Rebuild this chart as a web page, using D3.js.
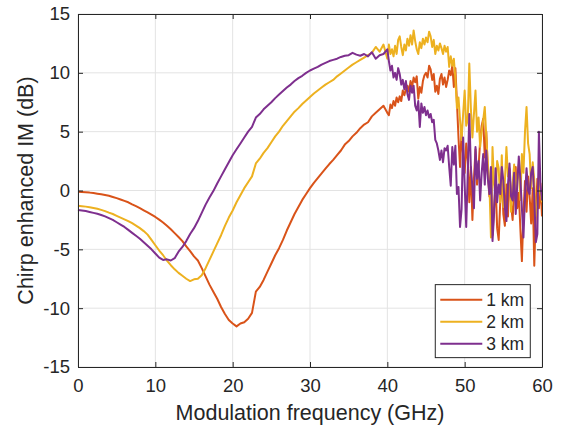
<!DOCTYPE html>
<html>
<head>
<meta charset="utf-8">
<script src="https://cdn.jsdelivr.net/npm/d3@7"></script>
<style>
  body { margin: 0; background: #fff; }
  text { font-family: "Liberation Sans", Arial, sans-serif; fill: #262626; }
</style>
</head>
<body>
<div id="chart"></div>
<script>
// frequency grids (GHz): coarse up to 40, fine in the noisy part
var freqLow = d3.range(0, 40, 0.5);
var freqHigh = d3.range(0, 101).map(function(i) { return +(40 + i * 0.2).toFixed(1); });

var km1Low = [-0.10,-0.12,-0.15,-0.18,-0.22,-0.27,-0.32,-0.38,-0.45,-0.55,
  -0.65,-0.76,-0.88,-1.00,-1.18,-1.33,-1.50,-1.68,-1.86,-2.05,
  -2.25,-2.48,-2.72,-3.00,-3.30,-3.62,-3.95,-4.30,-4.75,-5.15,
  -5.60,-5.95,-6.60,-7.30,-8.00,-8.60,-9.20,-9.90,-10.50,-11.00,
  -11.30,-11.55,-11.30,-11.20,-10.90,-10.40,-8.60,-8.20,-7.60,-6.90,
  -6.20,-5.50,-4.90,-4.20,-3.40,-2.70,-2.00,-1.40,-0.80,-0.30,
  0.20,0.65,1.05,1.45,1.85,2.25,2.60,3.00,3.40,3.90,
  4.20,4.60,4.90,5.30,5.60,5.80,6.30,6.60,6.90,7.20];
var km1High = [6.6,6.4,7.3,7.0,7.6,7.2,7.9,7.5,8.0,7.6,
  8.5,8.1,8.6,8.9,8.4,9.3,8.8,9.6,9.2,9.7,
  7.8,8.8,8.3,9.3,9.8,10.0,9.6,10.6,10.3,9.4,
  9.9,8.4,8.9,8.2,9.5,9.9,9.0,9.6,8.8,9.4,
  10.2,9.8,10.6,8.8,10.4,7.5,4.5,2.0,5.0,3.0,
  1.5,4.0,2.5,-1.0,2.0,-2.5,1.0,3.5,0.5,2.0,
  4.2,5.5,6.1,2.8,5.0,1.5,-0.5,1.0,-3.8,-1.5,
  0.5,-3.2,-4.2,-1.0,1.5,-2.0,-3.0,0.5,-2.2,1.8,
  -1.2,-2.5,0.2,2.0,-1.5,-0.2,-3.2,-6.0,-2.0,0.8,
  -1.8,1.2,-0.5,-2.8,0.2,-6.4,-2.0,1.0,-1.5,0.6,
  -2.2];

var km2Low = [-1.30,-1.33,-1.37,-1.42,-1.48,-1.55,-1.65,-1.75,-1.88,-2.00,
  -2.15,-2.30,-2.45,-2.60,-2.78,-2.98,-3.20,-3.45,-3.75,-4.20,
  -4.65,-5.10,-5.50,-5.95,-6.35,-6.70,-7.00,-7.25,-7.50,-7.70,
  -7.55,-7.50,-7.20,-6.60,-5.90,-5.20,-4.50,-3.80,-3.00,-2.30,
  -1.70,-1.00,-0.40,0.20,0.70,1.20,2.30,2.70,3.20,3.60,
  4.10,4.60,5.00,5.50,5.90,6.30,6.70,7.00,7.35,7.65,
  7.95,8.25,8.50,8.75,9.00,9.20,9.40,9.70,9.95,10.20,
  10.45,10.70,10.90,11.10,11.30,11.50,11.70,12.20,11.80,12.40];
var km2High = [11.2,12.4,11.6,12.0,11.4,12.3,11.6,12.8,13.1,12.2,
  11.5,12.4,11.9,12.9,12.3,13.2,12.4,13.6,12.7,12.0,
  11.6,12.6,12.1,12.9,12.4,13.0,12.6,13.5,13.1,12.2,
  12.8,11.6,12.3,11.9,12.5,12.1,11.6,12.3,11.8,12.2,
  10.5,11.4,10.6,11.2,9.5,7.0,7.9,6.0,4.3,6.5,
  8.5,5.5,6.0,10.8,7.0,4.5,6.5,8.5,5.0,6.2,
  3.7,5.0,6.0,7.1,4.5,2.3,0.5,-4.0,3.7,0.5,
  -0.3,2.5,1.9,-1.0,3.0,-1.4,0.8,3.7,1.2,1.9,
  -1.8,0.5,2.2,-0.3,1.0,2.2,-0.8,3.1,1.5,5.0,
  7.1,4.0,3.1,0.2,2.4,0.9,-2.2,-1.4,1.2,-0.3,
  -1.0];

var km3Low = [-1.65,-1.70,-1.75,-1.82,-1.90,-1.98,-2.08,-2.20,-2.35,-2.50,
  -2.70,-2.90,-3.10,-3.35,-3.60,-3.85,-4.10,-4.40,-4.70,-5.00,
  -5.35,-5.70,-5.90,-5.85,-5.95,-5.75,-5.20,-4.80,-4.30,-3.70,
  -3.20,-2.60,-1.90,-1.20,-0.60,-0.05,0.60,1.20,1.80,2.40,
  3.00,3.50,4.00,4.50,5.00,5.40,6.20,6.50,6.90,7.20,
  7.50,7.85,8.15,8.45,8.75,9.00,9.30,9.55,9.75,10.00,
  10.20,10.35,10.50,10.70,10.85,11.00,11.10,11.20,11.35,11.45,
  11.50,11.70,11.55,11.45,11.60,11.40,11.75,11.20,11.50,11.60];
var km3High = [12.0,11.0,10.2,10.6,9.6,10.0,9.4,10.4,9.9,9.0,
  9.4,8.6,9.3,8.2,7.7,8.9,8.3,8.9,7.2,6.8,
  7.6,5.4,7.4,6.6,7.1,6.4,6.8,6.2,6.5,5.8,
  6.0,4.3,4.0,3.4,2.6,3.4,2.4,3.6,3.4,3.8,
  2.0,0.4,3.7,2.2,3.8,-0.3,0.3,-3.1,-1.6,4.5,
  0.5,-3.1,1.5,6.5,2.0,0.3,-1.5,3.7,1.0,2.5,
  -0.85,1.5,3.1,0.5,3.4,1.0,-0.3,2.0,-4.3,-2.0,
  1.9,-1.0,0.5,-0.3,2.0,0.85,-1.5,-2.6,0.5,2.3,
  -0.5,-0.85,1.5,-2.0,0.5,2.9,1.0,-1.5,-4.0,-0.5,
  1.9,0.0,-0.3,1.5,2.0,-0.5,-4.4,-3.7,5.0,0.5,
  -0.85];

var seriesNames = ["1 km", "2 km", "3 km"];
var seriesColors = ["#D95319", "#EDB120", "#7E2F8E"];
var xTicks = [0, 10, 20, 30, 40, 50, 60];
var yTicks = [-15, -10, -5, 0, 5, 10, 15];

function pairs(xs, ys) {
  return xs.map(function(x, i) { return {f: x, v: ys[i]}; });
}
var allSeries = [
  pairs(freqLow, km1Low).concat(pairs(freqHigh, km1High)),
  pairs(freqLow, km2Low).concat(pairs(freqHigh, km2High)),
  pairs(freqLow, km3Low).concat(pairs(freqHigh, km3High))
];

var margin = {top: 14, right: 22, bottom: 64, left: 78},
    width = 564 - margin.left - margin.right,
    height = 431 - margin.top - margin.bottom;

var svg = d3.select("#chart")
  .append("svg")
    .attr("width", 564)
    .attr("height", 431)
  .append("g")
    .attr("transform", "translate(" + margin.left + "," + margin.top + ")");

var x = d3.scaleLinear().domain([0, 60]).range([0, width]);
var y = d3.scaleLinear().domain([-15, 15]).range([height, 0]);

// grid
svg.append("g").selectAll("line.gx")
  .data(xTicks).enter().append("line")
    .attr("x1", function(d) { return x(d); }).attr("x2", function(d) { return x(d); })
    .attr("y1", 0).attr("y2", height)
    .attr("stroke", "#e3e3e3").attr("stroke-width", 1);
svg.append("g").selectAll("line.gy")
  .data(yTicks).enter().append("line")
    .attr("x1", 0).attr("x2", width)
    .attr("y1", function(d) { return y(d); }).attr("y2", function(d) { return y(d); })
    .attr("stroke", "#e3e3e3").attr("stroke-width", 1);

// lines
var line = d3.line()
  .x(function(d) { return x(d.f); })
  .y(function(d) { return y(d.v); });

svg.selectAll("path.series")
  .data(allSeries).enter().append("path")
    .attr("class", "series")
    .attr("fill", "none")
    .attr("stroke", function(d, i) { return seriesColors[i]; })
    .attr("stroke-width", 2)
    .attr("stroke-linejoin", "round")
    .attr("d", line);

// axes (ticks pointing inward, box on)
function styleAxis(g) {
  g.select(".domain").attr("stroke", "#262626");
  g.selectAll(".tick line").attr("stroke", "#262626");
  g.selectAll(".tick text").attr("fill", "#262626")
    .style("font-family", "'Liberation Sans', Arial, sans-serif")
    .style("font-size", "18.5px");
}
var plain = function(d) { return String(d); };

svg.append("g")
  .attr("transform", "translate(0," + height + ")")
  .call(d3.axisBottom(x).tickValues(xTicks).tickFormat(plain).tickSize(-5).tickSizeOuter(0).tickPadding(12))
  .call(styleAxis);
svg.append("g")
  .call(d3.axisLeft(y).tickValues(yTicks).tickFormat(plain).tickSize(-5).tickSizeOuter(0).tickPadding(8))
  .call(styleAxis);
svg.append("g")
  .call(d3.axisTop(x).tickValues(xTicks).tickSize(-5).tickSizeOuter(0).tickFormat(""))
  .call(styleAxis);
svg.append("g")
  .attr("transform", "translate(" + width + ",0)")
  .call(d3.axisRight(y).tickValues(yTicks).tickSize(-5).tickSizeOuter(0).tickFormat(""))
  .call(styleAxis);

// axis labels
svg.append("text")
  .attr("x", width / 2)
  .attr("y", height + 53)
  .attr("text-anchor", "middle")
  .style("font-size", "21.5px")
  .text("Modulation frequency (GHz)");

svg.append("text")
  .attr("transform", "translate(" + (-45) + "," + (height / 2) + ") rotate(-90)")
  .attr("text-anchor", "middle")
  .style("font-size", "21.5px")
  .text("Chirp enhanced IM (dB)");

// legend
var legend = svg.append("g")
  .attr("transform", "translate(" + (x(46.2)) + "," + (y(-8.0)) + ")");
legend.append("rect")
  .attr("width", 95).attr("height", 73)
  .attr("fill", "#fff").attr("stroke", "#262626").attr("stroke-width", 1);
var items = legend.selectAll("g.item")
  .data(seriesNames).enter().append("g")
    .attr("transform", function(d, i) { return "translate(0," + (15 + i * 22) + ")"; });
items.append("line")
  .attr("x1", 5).attr("x2", 47)
  .attr("stroke", function(d, i) { return seriesColors[i]; })
  .attr("stroke-width", 2);
items.append("text")
  .attr("x", 51)
  .attr("dy", "0.35em")
  .style("font-size", "17.5px")
  .text(function(d) { return d; });
</script>
</body>
</html>
